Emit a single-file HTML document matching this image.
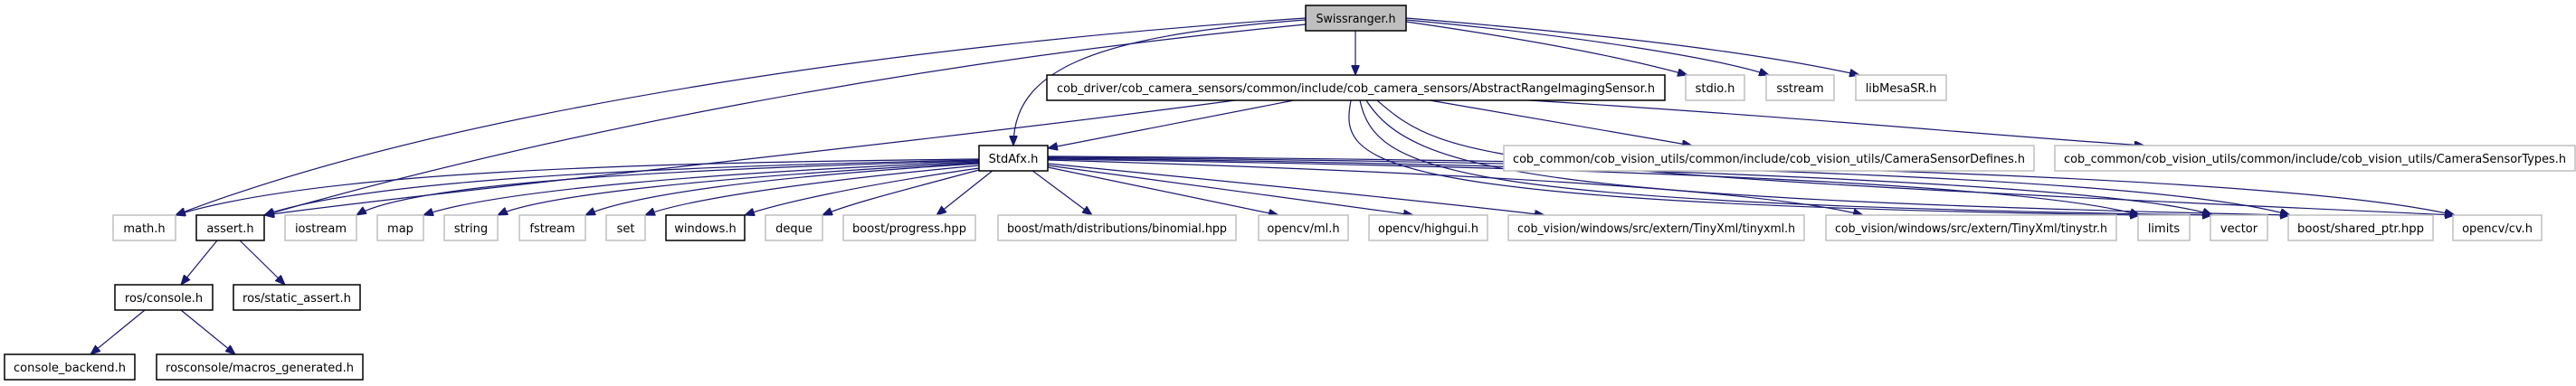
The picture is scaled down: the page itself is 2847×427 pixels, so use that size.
<!DOCTYPE html>
<html><head><meta charset="utf-8"><style>
html,body{margin:0;padding:0;background:#fff;}
svg{display:block;}
text{font-family:"DejaVu Sans","Liberation Sans",sans-serif;font-size:13px;fill:#000;}
.l{fill:#fff;stroke:#bfbfbf;stroke-width:1.5;}
.d{fill:#fff;stroke:#000;stroke-width:1.5;}
.e{fill:none;stroke:#191970;stroke-width:1.2;marker-end:url(#a);}
</style></head><body>
<svg width="2847" height="427" viewBox="0 0 2847 427" xmlns="http://www.w3.org/2000/svg">
<defs><marker id="a" markerUnits="userSpaceOnUse" markerWidth="12" markerHeight="9" refX="11" refY="4.5" orient="auto"><path d="M0,0 L11,4.5 L0,9 z" fill="#191970" stroke="#191970"/></marker></defs>
<g>
<path class="e" d="M1498,34 L1498,83"/>
<path class="e" d="M1443,22 C1200,40 1120,80 1120,161"/>
<path class="e" d="M1443,20 C1000,50 500,120 194,238"/>
<path class="e" d="M1443,27 C1000,70 600,150 292,238"/>
<path class="e" d="M1554,24 C1700,45 1800,65 1865,83"/>
<path class="e" d="M1554,22 C1750,40 1900,65 1955,83"/>
<path class="e" d="M1554,20 C1800,40 1950,60 2055,83"/>
<path class="e" d="M1430,111 L1158,164"/>
<path class="e" d="M1365,111 C1000,160 500,210 292,238"/>
<path class="e" d="M1580,111 L1870,161"/>
<path class="e" d="M1690,111 C2000,130 2200,150 2370,161"/>
<path class="e" d="M1493,111 C1480,180 1500,225 2365,238"/>
<path class="e" d="M1503,111 C1520,190 1600,225 2445,238"/>
<path class="e" d="M1510,111 C1560,190 1700,220 2531,238"/>
<path class="e" d="M1522,111 C1600,180 1650,190 2713,238"/>
<path class="e" d="M1082,176 C700,180 350,190 194,238"/>
<path class="e" d="M1082,177 C700,185 400,200 292,238"/>
<path class="e" d="M1082,178 C700,188 450,205 394,238"/>
<path class="e" d="M1082,179 C800,190 550,210 468,238"/>
<path class="e" d="M1082,180 C800,195 600,215 550,238"/>
<path class="e" d="M1082,181 C850,195 700,215 647,238"/>
<path class="e" d="M1082,183 C900,200 760,220 713,238"/>
<path class="e" d="M1082,186 C950,205 860,225 823,238"/>
<path class="e" d="M1082,188 C1000,210 940,225 909,238"/>
<path class="e" d="M1098,188 L1035,238"/>
<path class="e" d="M1140,188 L1207,238"/>
<path class="e" d="M1158,185 L1413,238"/>
<path class="e" d="M1158,183 L1562,238"/>
<path class="e" d="M1158,181 C1400,205 1600,225 1707,238"/>
<path class="e" d="M1158,177 C1600,190 1950,210 2059,238"/>
<path class="e" d="M1158,176 C1800,185 2250,205 2365,238"/>
<path class="e" d="M1158,175 C1800,182 2350,205 2445,238"/>
<path class="e" d="M1158,174 C1900,180 2400,200 2531,238"/>
<path class="e" d="M1158,173 C2000,178 2550,200 2713,238"/>
<path class="e" d="M240,266 L200,315"/>
<path class="e" d="M265,266 L315,315"/>
<path class="e" d="M160,343 L100,392"/>
<path class="e" d="M200,343 L260,392"/>
</g>
<g>
<rect x="1443" y="6" width="111" height="28" fill="#bfbfbf" stroke="#000" stroke-width="1.5"/>
<text x="1498.5" y="25" text-anchor="middle" textLength="88" lengthAdjust="spacingAndGlyphs">Swissranger.h</text>

<rect class="d" x="1157" y="83" width="683" height="28"/><text x="1498.5" y="102" text-anchor="middle" textLength="661" lengthAdjust="spacingAndGlyphs">cob_driver/cob_camera_sensors/common/include/cob_camera_sensors/AbstractRangeImagingSensor.h</text>
<rect class="l" x="1863" y="83" width="65" height="28"/><text x="1895.5" y="102" text-anchor="middle">stdio.h</text>
<rect class="l" x="1952" y="83" width="75" height="28"/><text x="1989.5" y="102" text-anchor="middle">sstream</text>
<rect class="l" x="2051" y="83" width="100" height="28"/><text x="2101" y="102" text-anchor="middle">libMesaSR.h</text>

<rect class="d" x="1082" y="161" width="76" height="28"/><text x="1120" y="180" text-anchor="middle">StdAfx.h</text>
<rect class="l" x="1662" y="161" width="586" height="28"/><text x="1955" y="180" text-anchor="middle" textLength="566" lengthAdjust="spacingAndGlyphs">cob_common/cob_vision_utils/common/include/cob_vision_utils/CameraSensorDefines.h</text>
<rect class="l" x="2271" y="161" width="575" height="28"/><text x="2558.5" y="180" text-anchor="middle" textLength="555" lengthAdjust="spacingAndGlyphs">cob_common/cob_vision_utils/common/include/cob_vision_utils/CameraSensorTypes.h</text>

<rect class="l" x="125" y="238" width="69" height="28"/><text x="159.5" y="257" text-anchor="middle">math.h</text>
<rect class="d" x="217" y="238" width="75" height="28"/><text x="254.5" y="257" text-anchor="middle">assert.h</text>
<rect class="l" x="315" y="238" width="79" height="28"/><text x="354.5" y="257" text-anchor="middle">iostream</text>
<rect class="l" x="417" y="238" width="51" height="28"/><text x="442.5" y="257" text-anchor="middle">map</text>
<rect class="l" x="491" y="238" width="59" height="28"/><text x="520.5" y="257" text-anchor="middle">string</text>
<rect class="l" x="574" y="238" width="73" height="28"/><text x="610.5" y="257" text-anchor="middle">fstream</text>
<rect class="l" x="670" y="238" width="43" height="28"/><text x="691.5" y="257" text-anchor="middle">set</text>
<rect class="d" x="736" y="238" width="87" height="28"/><text x="779.5" y="257" text-anchor="middle">windows.h</text>
<rect class="l" x="846" y="238" width="63" height="28"/><text x="877.5" y="257" text-anchor="middle">deque</text>
<rect class="l" x="932" y="238" width="146" height="28"/><text x="1005" y="257" text-anchor="middle" textLength="126" lengthAdjust="spacingAndGlyphs">boost/progress.hpp</text>
<rect class="l" x="1103" y="238" width="263" height="28"/><text x="1234.5" y="257" text-anchor="middle" textLength="243" lengthAdjust="spacingAndGlyphs">boost/math/distributions/binomial.hpp</text>
<rect class="l" x="1391" y="238" width="99" height="28"/><text x="1440.5" y="257" text-anchor="middle">opencv/ml.h</text>
<rect class="l" x="1513" y="238" width="131" height="28"/><text x="1578.5" y="257" text-anchor="middle" textLength="111" lengthAdjust="spacingAndGlyphs">opencv/highgui.h</text>
<rect class="l" x="1667" y="238" width="327" height="28"/><text x="1830.5" y="257" text-anchor="middle" textLength="307" lengthAdjust="spacingAndGlyphs">cob_vision/windows/src/extern/TinyXml/tinyxml.h</text>
<rect class="l" x="2018" y="238" width="321" height="28"/><text x="2178.5" y="257" text-anchor="middle" textLength="301" lengthAdjust="spacingAndGlyphs">cob_vision/windows/src/extern/TinyXml/tinystr.h</text>
<rect class="l" x="2363" y="238" width="57" height="28"/><text x="2391.5" y="257" text-anchor="middle">limits</text>
<rect class="l" x="2443" y="238" width="63" height="28"/><text x="2474.5" y="257" text-anchor="middle">vector</text>
<rect class="l" x="2529" y="238" width="160" height="28"/><text x="2609" y="257" text-anchor="middle" textLength="140" lengthAdjust="spacingAndGlyphs">boost/shared_ptr.hpp</text>
<rect class="l" x="2711" y="238" width="98" height="28"/><text x="2760" y="257" text-anchor="middle">opencv/cv.h</text>

<rect class="d" x="127" y="315" width="108" height="28"/><text x="181" y="334" text-anchor="middle">ros/console.h</text>
<rect class="d" x="258" y="315" width="140" height="28"/><text x="328" y="334" text-anchor="middle" textLength="120" lengthAdjust="spacingAndGlyphs">ros/static_assert.h</text>

<rect class="d" x="5" y="392" width="144" height="28"/><text x="77" y="411" text-anchor="middle" textLength="124" lengthAdjust="spacingAndGlyphs">console_backend.h</text>
<rect class="d" x="173" y="392" width="228" height="28"/><text x="287" y="411" text-anchor="middle" textLength="208" lengthAdjust="spacingAndGlyphs">rosconsole/macros_generated.h</text>
</g>
</svg>
</body></html>
